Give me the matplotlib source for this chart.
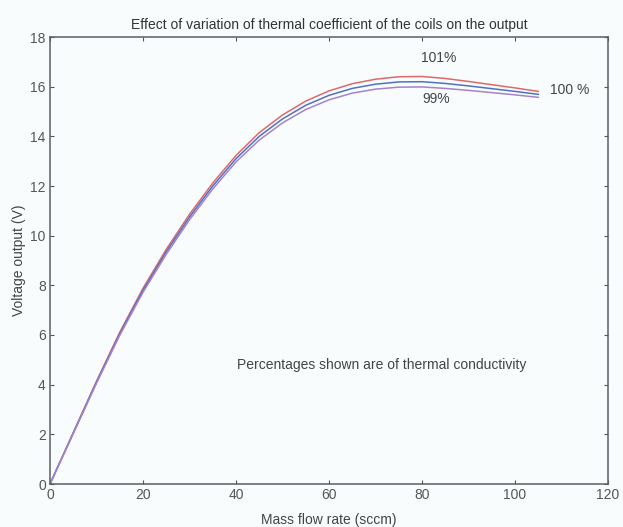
import matplotlib
matplotlib.use("Agg")
import matplotlib.pyplot as plt

plt.rcParams['font.family'] = ['Liberation Sans', 'DejaVu Sans']

# Mass flow rate (sccm)
flow = [0, 5, 10, 15, 20, 25, 30, 35, 40, 45, 50, 55, 60, 65, 70, 75, 80, 85, 90, 95, 100, 105]

# Voltage output (V) for thermal conductivity at 101 %, 100 % and 99 %
v_101 = [0, 2.07, 4.14, 6.11, 7.88, 9.45, 10.86, 12.12, 13.23, 14.15, 14.86, 15.42, 15.83,
         16.12, 16.30, 16.40, 16.41, 16.33, 16.21, 16.08, 15.95, 15.81]
v_100 = [0, 2.05, 4.10, 6.05, 7.80, 9.35, 10.75, 12.00, 13.10, 14.00, 14.70, 15.25, 15.65,
         15.93, 16.10, 16.19, 16.20, 16.13, 16.03, 15.92, 15.81, 15.69]
v_99 = [0, 2.03, 4.06, 5.99, 7.72, 9.25, 10.64, 11.88, 12.97, 13.85, 14.54, 15.08, 15.47,
        15.74, 15.90, 15.98, 15.99, 15.93, 15.85, 15.76, 15.67, 15.57]

x_ticks = [0, 20, 40, 60, 80, 100, 120]
y_ticks = [0, 2, 4, 6, 8, 10, 12, 14, 16, 18]

fig = plt.figure(figsize=(6.23, 5.27), dpi=100)
fig.patch.set_facecolor('#f9fcfc')
ax = fig.add_axes([50 / 623, 43 / 527, 558 / 623, 447 / 527])
ax.set_facecolor('#f9fcfc')

ax.plot(flow, v_101, color='#dc6a6a', lw=1.1)
ax.plot(flow, v_100, color='#5070c4', lw=1.1)
ax.plot(flow, v_99, color='#a482cc', lw=1.1)

ax.set_xlim(0, 120)
ax.set_ylim(0, 18)
ax.set_xticks(x_ticks)
ax.set_yticks(y_ticks)
ax.tick_params(direction='in', top=True, right=True, length=3, width=0.8,
               labelsize=10, colors='#555555', pad=3)
for s in ax.spines.values():
    s.set_color('#5a5f66')
    s.set_linewidth(1.1)

ax.set_xlabel('Mass flow rate (sccm)', fontsize=10, color='#444444', labelpad=8)
ax.set_ylabel('Voltage output (V)', fontsize=10, color='#444444', labelpad=3)
ax.set_title('Effect of variation of thermal coefficient of the coils on the output',
             fontsize=10, color='#333333', pad=6)

ax.text(83.5, 17.15, '101%', fontsize=10, color='#444444', ha='center', va='center')
ax.text(83.0, 15.5, '99%', fontsize=10, color='#444444', ha='center', va='center')
ax.text(111.7, 15.87, '100 %', fontsize=10, color='#444444', ha='center', va='center')
ax.text(40.2, 4.8, 'Percentages shown are of thermal conductivity', fontsize=10,
        color='#444444', ha='left', va='center')

fig.savefig('out.png', dpi=100, facecolor=fig.get_facecolor())
